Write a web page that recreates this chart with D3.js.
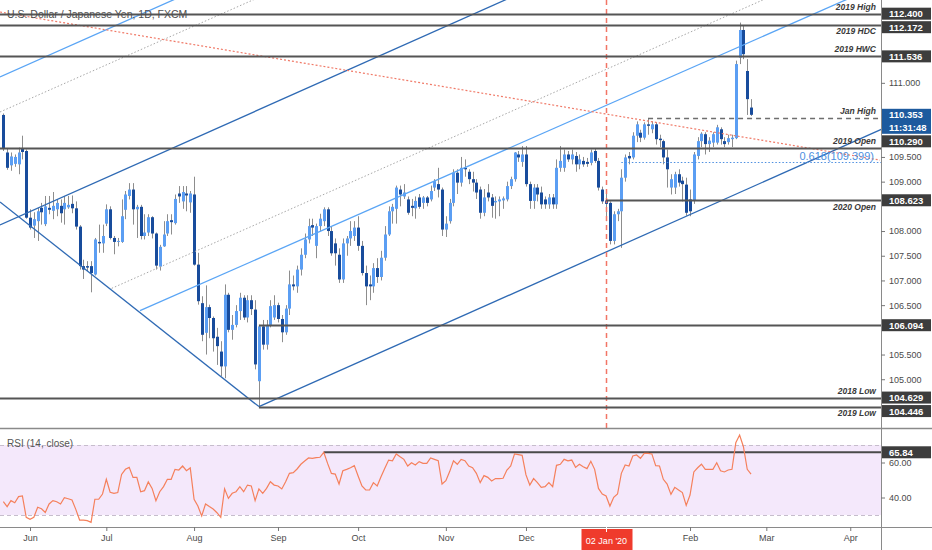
<!DOCTYPE html>
<html><head><meta charset="utf-8">
<script src="https://cdn.jsdelivr.net/npm/d3@7"></script>
<style>
html,body{margin:0;padding:0;background:#fff;overflow:hidden;}
svg{display:block;font-family:"Liberation Sans",Arial,sans-serif;}
</style>
</head><body>
<svg id="chart" width="932" height="550"></svg>
<script>
// ---------------- DATA ----------------
const chartTitle = "U.S. Dollar / Japanese Yen, 1D, FXCM";
const startDate = "2019-05-23";
const endDate = "2020-04-30";
const holidays = ["2019-12-25", "2020-01-01"];
const markerDate = "2020-01-02";
const markerLabel = "02 Jan '20";
const monthLabels = ["Jun","Jul","Aug","Sep","Oct","Nov","Dec","Feb","Mar","Apr"];

// daily candles [open, high, low, close]
const ohlc = [
[110.35,110.38,109.62,109.66],[109.59,109.66,109.24,109.28],[109.33,109.59,109.22,109.51],[109.36,109.55,109.30,109.50],
[109.35,109.69,109.15,109.59],[109.66,109.93,109.45,109.60],[109.62,109.65,108.25,108.27],[108.27,108.44,108.03,108.07],
[108.11,108.38,107.86,108.24],[108.20,108.47,107.80,108.40],[108.47,108.57,108.13,108.38],[108.14,108.71,108.10,108.50],
[108.47,108.71,108.34,108.43],[108.41,108.79,108.24,108.51],[108.44,108.64,108.30,108.57],[108.51,108.64,108.17,108.36],
[108.44,108.71,108.13,108.57],[108.48,108.71,108.45,108.53],[108.55,108.72,108.36,108.46],[108.46,108.60,108.03,108.09],
[108.09,108.12,107.22,107.29],[107.29,107.42,107.03,107.22],[107.29,107.39,107.19,107.26],[107.29,107.39,106.76,107.15],
[107.12,107.86,107.10,107.83],[107.78,108.13,107.56,107.75],[107.75,108.13,107.56,107.90],[108.15,108.54,108.10,108.44],
[108.44,108.50,107.83,107.86],[107.86,107.90,107.53,107.78],[107.78,107.86,107.69,107.80],[107.78,108.64,107.76,108.30],
[108.43,108.81,108.24,108.74],[108.71,108.97,108.64,108.84],[108.84,108.97,108.13,108.44],[108.44,108.53,107.86,108.49],
[108.49,108.53,107.83,107.90],[107.90,108.34,107.83,107.97],[107.97,108.34,107.90,108.28],[108.28,108.30,107.85,107.95],
[107.95,107.97,107.22,107.30],[107.28,107.72,107.20,107.68],[107.69,108.20,107.68,107.93],[107.95,108.34,107.90,108.20],
[108.22,108.34,107.93,108.18],[108.16,108.74,108.13,108.65],[108.76,108.91,108.57,108.70],[108.60,108.91,108.45,108.79],
[108.76,108.91,108.40,108.72],[108.58,108.81,108.37,108.76],[108.74,109.10,107.30,107.32],[107.32,107.56,106.51,106.58],
[106.54,106.68,105.77,105.90],[105.94,106.90,105.50,106.46],[106.46,106.51,105.83,106.24],[106.24,106.27,105.56,105.83],
[105.86,106.04,105.29,105.67],[105.56,105.77,105.06,105.26],[105.26,106.92,105.02,106.71],[106.71,106.75,105.95,106.00],
[106.00,106.30,105.80,106.10],[106.10,106.50,106.05,106.38],[106.38,106.75,106.20,106.65],[106.65,106.70,106.20,106.25],
[106.25,106.70,106.15,106.60],[106.60,106.70,106.30,106.42],[106.41,106.60,105.20,105.30],[104.96,106.10,104.45,106.07],
[106.07,106.20,105.60,105.70],[105.70,106.20,105.60,106.10],[106.10,106.60,106.05,106.48],[106.25,106.70,106.20,106.50],
[106.50,106.55,106.15,106.22],[106.22,106.30,105.75,105.95],[105.95,106.50,105.90,106.43],[106.43,107.20,106.30,106.92],
[106.92,107.10,106.80,106.88],[106.88,107.30,106.75,107.22],[107.22,107.65,107.10,107.52],[107.52,107.95,107.45,107.83],
[107.83,108.25,107.75,108.10],[108.12,108.25,107.90,108.07],[107.70,108.15,107.45,108.10],[108.10,108.35,108.00,108.25],
[108.20,108.48,108.10,108.44],[108.44,108.48,107.90,108.00],[108.00,108.10,107.50,107.55],[107.75,107.85,107.30,107.55],
[107.52,107.65,106.95,107.02],[107.02,107.85,106.95,107.75],[107.75,107.90,107.50,107.85],[107.85,108.20,107.70,108.00],
[107.90,108.20,107.80,108.07],[108.07,108.30,107.60,107.70],[107.70,107.80,107.10,107.15],[107.15,107.30,106.50,106.88],
[106.92,107.10,106.60,106.88],[106.88,107.35,106.75,107.25],[107.25,107.45,106.95,107.07],[107.07,107.60,107.00,107.46],
[107.46,108.10,107.40,107.93],[107.93,108.50,107.90,108.40],[108.40,108.55,108.15,108.49],[108.45,108.92,108.15,108.88],
[108.84,108.92,108.50,108.74],[108.70,108.95,108.65,108.78],[108.64,108.70,108.33,108.37],[108.51,108.65,108.30,108.47],
[108.46,108.70,108.25,108.61],[108.68,108.75,108.45,108.49],[108.57,108.71,108.45,108.68],[108.68,108.71,108.50,108.57],
[108.64,108.92,108.60,108.81],[108.88,109.05,108.81,109.01],[108.95,109.28,108.68,108.84],[108.84,108.88,107.90,108.03],
[108.03,108.30,107.88,108.15],[108.20,108.65,108.15,108.57],[108.57,109.25,108.50,109.18],[109.18,109.25,108.75,108.98],
[108.98,109.50,108.90,109.28],[109.28,109.45,109.10,109.25],[109.20,109.25,108.95,109.05],[109.05,109.20,108.80,108.98],
[108.98,109.05,108.65,108.78],[108.84,108.90,108.25,108.37],[108.37,108.85,108.30,108.68],[108.78,108.95,108.60,108.68],
[108.68,108.75,108.27,108.51],[108.58,108.70,108.25,108.61],[108.60,108.70,108.30,108.64],[108.62,108.70,108.45,108.66],
[108.64,109.00,108.60,108.91],[108.91,109.10,108.85,109.05],[109.05,109.60,109.00,109.59],[109.55,109.62,109.40,109.49],
[109.40,109.72,109.30,109.55],[109.55,109.72,108.90,108.95],[108.95,109.00,108.45,108.61],[108.61,108.95,108.45,108.88],
[108.88,108.95,108.60,108.74],[108.78,108.90,108.45,108.54],[108.64,108.70,108.45,108.54],[108.54,108.75,108.45,108.68],
[108.68,108.75,108.45,108.54],[108.54,109.45,108.45,109.28],[109.28,109.72,109.20,109.42],[109.28,109.65,109.20,109.55],
[109.55,109.62,109.40,109.45],[109.45,109.65,109.35,109.55],[109.52,109.60,109.20,109.35],[109.35,109.55,109.25,109.45],
[109.42,109.50,109.30,109.35],[109.40,109.48,109.30,109.36],[109.38,109.65,109.33,109.59],[109.62,109.68,109.38,109.42],
[109.42,109.48,108.82,108.88],[108.84,108.90,108.55,108.60],[108.62,108.75,108.20,108.55],[108.57,108.60,107.73,107.80],
[107.80,108.40,107.73,108.34],[108.34,108.45,108.20,108.40],[108.40,109.25,107.66,109.08],[109.08,109.55,109.00,109.49],
[109.52,109.60,109.35,109.47],[109.49,110.00,109.45,109.93],[109.93,110.22,109.80,110.16],[109.99,110.05,109.80,109.89],
[109.89,110.20,109.85,110.16],[110.16,110.29,109.95,110.13],[110.06,110.22,109.98,110.16],[110.16,110.20,109.75,109.86],
[109.87,109.95,109.70,109.84],[109.82,109.85,109.35,109.49],[109.49,109.65,108.88,109.25],[108.88,109.15,108.74,109.05],
[108.88,109.20,108.75,109.15],[109.15,109.25,108.90,108.98],[109.02,109.10,108.60,108.95],[108.94,109.08,108.31,108.37],
[108.64,108.84,108.30,108.40],[108.61,109.60,108.55,109.55],[109.52,109.90,109.45,109.82],[109.82,110.00,109.70,109.97],
[109.96,110.00,109.55,109.76],[109.76,109.90,109.60,109.83],[109.79,110.00,109.70,109.96],[109.79,110.15,109.75,110.10],
[110.06,110.10,109.75,109.86],[109.82,109.90,109.70,109.76],[109.80,109.95,109.75,109.88],[109.86,109.95,109.70,109.89],
[109.88,111.45,109.86,111.38],[111.51,112.22,111.38,112.07],[112.07,112.15,111.48,111.58],[111.24,111.48,110.35,110.67],
[110.50,110.67,110.33,110.353]
];

// RSI(14, close) values per bar
const rsi = [
37.6,34.8,38.2,37.0,40.5,40.9,28.7,27.5,28.7,34.4,33.6,31.5,36.3,38.2,37.6,36.3,39.9,39.3,38.6,33.2,
27.1,27.1,26.8,25.8,39.0,39.0,42.0,50.4,43.0,42.4,42.8,53.2,56.1,57.2,51.5,51.5,43.3,43.9,48.9,45.2,
38.2,43.3,46.2,50.4,50.4,56.1,55.7,58.0,55.3,56.9,39.0,35.1,29.4,36.3,34.8,33.4,31.3,28.7,45.0,39.5,
42.4,43.3,46.2,43.3,47.1,46.6,38.2,44.9,42.4,45.2,49.0,47.1,46.6,44.9,49.0,53.8,54.2,56.3,59.0,60.9,
62.6,62.4,62.8,63.0,65.84,59.5,53.8,53.4,47.7,55.3,56.1,57.0,58.2,52.3,46.6,44.3,44.3,48.5,46.6,51.9,
56.7,61.4,61.0,64.9,63.3,61.8,58.0,59.9,58.6,60.5,59.5,59.5,62.6,61.8,61.0,47.7,49.6,54.8,61.0,59.0,
61.8,61.0,58.0,57.0,53.8,48.5,52.5,51.5,49.4,50.8,50.8,51.0,55.7,58.0,64.9,64.5,64.1,52.9,47.1,50.8,
48.5,45.8,46.2,48.5,46.2,58.4,59.0,61.8,60.9,61.4,57.2,59.0,57.6,56.5,60.7,56.1,45.2,42.0,40.9,35.1,
40.1,42.0,53.8,58.6,58.0,63.7,64.3,62.4,65.2,65.2,64.9,58.2,58.0,50.4,47.7,41.8,45.8,44.3,42.8,35.5,
41.4,54.6,57.0,59.0,56.1,56.1,56.1,59.9,55.3,54.6,55.7,56.1,71.3,75.7,69.0,56.1,53.4
];
const rsiBand = [30, 70];
const rsiTicks = [40, 60];
const rsiLevel = 65.84;
const rsiLevelFrom = 84;

// horizontal price levels
const levelNames  = ["2019 High","2019 HDC","2019 HWC","Jan High","2019 Open","2020 Open","","2018 Low","2019 Low"];
const levelValues = [112.400, 112.172, 111.536, 110.290, 109.690, 108.623, 106.094, 104.629, 104.446];
const levelFrom   = [null, null, null, 169, null, 158, 67, null, 67];
const levelTagged = [true, true, true, true, false, true, true, true, true];

// fibonacci level
const fibName = "0.618";
const fibValue = 109.399;
const fibFrom = 162;

// trend lines, [barIndex, price] anchors
const channelLines = [
  [[-0.87, 108.59], [67, 104.446]],
  [[67, 104.446], [240, 110.397]],
  [[-0.87, 108.123], [140, 112.969]]
];
const medianLines = [
  [[35.83, 106.388], [232, 113.06]],
  [[-0.87, 111.118], [50, 112.866]]
];
const quarterLines = [
  [[-0.87, 110.41], [70, 112.834]],
  [[28.41, 106.84], [205, 112.88]]
];
const fibTrend = [[-0.87, 112.434], [229.8, 109.436]];

const priceTicks = [104.5,105,105.5,106,106.5,107,107.5,108,108.5,109,109.5,110,110.5,111,111.5,112];
const countdown = "11:31:48";

// ---------------- LAYOUT ----------------
const W = 932, H = 550;
const plotRight = 881, mainBottom = 428, rsiBottom = 527;
const bullColor = "#5b9ef3", bearColor = "#184c9c", wickColor = "#8d8d8d";

const svg = d3.select("#chart");
svg.append("rect").attr("width", W).attr("height", H).attr("fill", "#fff");

const defs = svg.append("defs");
defs.append("clipPath").attr("id", "clipMain").append("rect")
  .attr("x", 0).attr("y", 0).attr("width", plotRight).attr("height", mainBottom);
defs.append("clipPath").attr("id", "clipRsi").append("rect")
  .attr("x", 0).attr("y", mainBottom).attr("width", plotRight).attr("height", rsiBottom - mainBottom);

// dates (trading days)
const parse = d3.utcParse("%Y-%m-%d"), fmt = d3.utcFormat("%Y-%m-%d"), fmtMon = d3.utcFormat("%b");
const dates = [];
for (let d = parse(startDate); d <= parse(endDate); d = d3.utcDay.offset(d, 1)) {
  const wd = d.getUTCDay();
  if (wd !== 0 && wd !== 6 && !holidays.includes(fmt(d))) dates.push(d);
}

const x = d3.scaleLinear().domain([-0.87, 230.06]).range([0, plotRight]);
const y = d3.scaleLinear().domain([104.013, 112.677]).range([mainBottom, 0]);
const yr = d3.scaleLinear().domain(rsiBand).range([515, 445]);

// ---------------- MAIN PANE ----------------
const main = svg.append("g").attr("clip-path", "url(#clipMain)");
const px = i => Math.round(x(i));

// candles
const cg = main.append("g");
cg.selectAll("line").data(ohlc).join("line")
  .attr("x1", (d, i) => px(i) + 0.5).attr("x2", (d, i) => px(i) + 0.5)
  .attr("y1", d => y(d[1])).attr("y2", d => y(d[2]))
  .attr("stroke", wickColor).attr("stroke-width", 1);
cg.selectAll("rect").data(ohlc).join("rect")
  .attr("x", (d, i) => px(i) - 1).attr("width", 3)
  .attr("y", d => y(Math.max(d[0], d[3])))
  .attr("height", d => Math.max(1, Math.abs(y(d[0]) - y(d[3]))))
  .attr("fill", d => d[3] >= d[0] ? bullColor : bearColor);

const line = d3.line().x(d => x(d[0])).y(d => y(d[1]));
const dg = main.append("g").attr("fill", "none");
dg.selectAll("path.q").data(quarterLines).join("path").attr("class", "q")
  .attr("d", line).attr("stroke", "#a8a8a8").attr("stroke-width", 1).attr("stroke-dasharray", "1.5,2");
dg.selectAll("path.m").data(medianLines).join("path").attr("class", "m")
  .attr("d", line).attr("stroke", "#5aa5f5").attr("stroke-width", 1.3);
dg.selectAll("path.c").data(channelLines).join("path").attr("class", "c")
  .attr("d", line).attr("stroke", "#2f6ab4").attr("stroke-width", 1.3);
dg.append("path").attr("d", line(fibTrend))
  .attr("stroke", "#f07a68").attr("stroke-width", 1.2).attr("stroke-dasharray", "2,2");

// fib level
dg.append("line").attr("x1", x(fibFrom)).attr("x2", plotRight)
  .attr("y1", Math.round(y(fibValue)) + 0.5).attr("y2", Math.round(y(fibValue)) + 0.5)
  .attr("stroke", "#4d8fe0").attr("stroke-width", 1).attr("stroke-dasharray", "1.5,2");
main.append("text").attr("x", 874).attr("y", y(fibValue) - 2)
  .attr("text-anchor", "end").attr("font-size", 11).attr("fill", "#4d8fe0")
  .text(fibName + "(" + fibValue.toFixed(3) + ")");

// Jan 2 vertical marker
const markerIdx = dates.findIndex(d => fmt(d) === markerDate);
main.append("line").attr("x1", px(markerIdx) + 0.5).attr("x2", px(markerIdx) + 0.5)
  .attr("y1", 0).attr("y2", mainBottom)
  .attr("stroke", "#f27566").attr("stroke-width", 1.5).attr("stroke-dasharray", "5,4");

// horizontal levels
const lv = main.append("g");
levelValues.forEach((v, k) => {
  const yy = Math.round(y(v)) + 0.5;
  const isJan = levelNames[k] === "Jan High";
  lv.append("line").attr("x1", levelFrom[k] == null ? 0 : x(levelFrom[k])).attr("x2", plotRight)
    .attr("y1", yy).attr("y2", yy)
    .attr("stroke", isJan ? "#6e6e6e" : "#555").attr("stroke-width", isJan ? 1.6 : 2)
    .attr("stroke-dasharray", isJan ? "5,4" : null);
});
const belowNames = ["2019 HDC", "2020 Open", "2019 Low"];
levelValues.forEach((v, k) => {
  if (!levelNames[k]) return;
  const below = belowNames.includes(levelNames[k]);
  lv.append("text").attr("x", 876).attr("y", y(v) + (below ? 9.5 : -4))
    .attr("text-anchor", "end").attr("font-size", 8.5).attr("font-style", "italic")
    .attr("font-weight", "bold").attr("fill", "#3a3a3a").text(levelNames[k]);
});

// title
svg.append("text").attr("x", 7).attr("y", 18).attr("font-size", 10.5).attr("fill", "#4f4f4f")
  .text(chartTitle);

// ---------------- RSI PANE ----------------
const rp = svg.append("g").attr("clip-path", "url(#clipRsi)");
rp.append("rect").attr("x", 0).attr("width", plotRight)
  .attr("y", yr(rsiBand[1])).attr("height", yr(rsiBand[0]) - yr(rsiBand[1])).attr("fill", "#f4e8fb");
rp.selectAll("line.band").data(rsiBand).join("line").attr("class", "band")
  .attr("x1", 0).attr("x2", plotRight).attr("y1", d => Math.round(yr(d)) + 0.5).attr("y2", d => Math.round(yr(d)) + 0.5)
  .attr("stroke", "#c6bdcc").attr("stroke-width", 1.2).attr("stroke-dasharray", "4,3");
rp.append("line").attr("x1", x(rsiLevelFrom)).attr("x2", plotRight)
  .attr("y1", yr(rsiLevel)).attr("y2", yr(rsiLevel)).attr("stroke", "#4a4a4a").attr("stroke-width", 2);
rp.append("path").datum(rsi).attr("fill", "none").attr("stroke", "#f5805c").attr("stroke-width", 1.2)
  .attr("d", d3.line().x((d, i) => x(i)).y(d => yr(d)));
svg.append("text").attr("x", 7).attr("y", 447).attr("font-size", 10).attr("fill", "#555")
  .text("RSI (14, close)");

// ---------------- AXES ----------------
svg.append("line").attr("x1", 0).attr("x2", W).attr("y1", mainBottom + 0.5).attr("y2", mainBottom + 0.5)
  .attr("stroke", "#8a8a8a").attr("stroke-width", 1.5);
svg.append("line").attr("x1", 0).attr("x2", W).attr("y1", rsiBottom + 0.5).attr("y2", rsiBottom + 0.5)
  .attr("stroke", "#8a8a8a").attr("stroke-width", 1);
svg.append("line").attr("x1", plotRight + 0.5).attr("x2", plotRight + 0.5).attr("y1", 0).attr("y2", H)
  .attr("stroke", "#8a8a8a").attr("stroke-width", 1);

// price tags with collision avoidance (computed first so covered ticks can be hidden)
const tags = [];
levelValues.forEach((v, k) => { if (levelTagged[k]) tags.push({ t: y(v), h: 12, lines: [v.toFixed(3)], bg: "#3d3d3d" }); });
const last = ohlc[ohlc.length - 1][3];
tags.push({ t: y(last), h: 25, lines: [last.toFixed(3), countdown], bg: "#1d5a9e", center: 6 });
tags.sort((a, b) => a.t - b.t);
let prevBottom = -Infinity;
tags.forEach(tg => {
  const off = tg.center || tg.h / 2;
  let top = tg.t - off;
  if (top < prevBottom + 1.5) top = prevBottom + 1.5;
  tg.top = top; prevBottom = top + tg.h;
});
const rsiTagY = yr(rsiLevel);
const boxes = tags.map(t => [t.top, t.top + t.h]).concat([[rsiTagY - 6, rsiTagY + 6]]);
const covered = yy => boxes.some(b => yy + 4 > b[0] && yy - 4 < b[1]);

function styleAxis(g) {
  g.select(".domain").remove();
  g.selectAll(".tick line").attr("stroke", "#777");
  g.selectAll(".tick text").attr("fill", "#4a4a4a").attr("font-size", 9)
    .attr("font-family", "Liberation Sans, Arial, sans-serif");
}
svg.append("g").attr("transform", `translate(${plotRight},0)`)
  .call(d3.axisRight(y).tickValues(priceTicks.filter(v => !covered(y(v))))
    .tickFormat(d3.format(".3f")).tickSize(4).tickPadding(4))
  .call(styleAxis);
svg.append("g").attr("transform", `translate(${plotRight},0)`)
  .call(d3.axisRight(yr).tickValues(rsiTicks).tickFormat(d3.format(".2f")).tickSize(4).tickPadding(4))
  .call(styleAxis);

// time axis
const monthIdx = monthLabels.map(m => dates.findIndex(d => fmtMon(d) === m));
svg.append("g").attr("transform", `translate(0,${rsiBottom})`)
  .call(d3.axisBottom(x).tickValues(monthIdx).tickFormat((d, i) => monthLabels[i]).tickSize(4).tickPadding(4))
  .call(styleAxis);

// marker label on time axis
const mx = px(markerIdx) + 0.5;
svg.append("rect").attr("x", mx - 25).attr("y", 529).attr("width", 51).attr("height", 21).attr("fill", "#ef3b2c");
svg.append("line").attr("x1", mx).attr("x2", mx).attr("y1", 527).attr("y2", 532).attr("stroke", "#fff");
svg.append("text").attr("x", mx).attr("y", 544).attr("text-anchor", "middle").attr("font-size", 9)
  .attr("fill", "#fff").text(markerLabel);

// draw price tags
const tagG = svg.append("g");
tags.forEach(tg => {
  tagG.append("rect").attr("x", plotRight + 1).attr("y", tg.top).attr("width", 49).attr("height", tg.h).attr("fill", tg.bg);
  tg.lines.forEach((s, j) => {
    tagG.append("text").attr("x", plotRight + 8).attr("y", tg.top + 9.5 + j * 13)
      .attr("font-size", 9.5).attr("font-weight", "bold").attr("fill", "#fff").text(s);
  });
});
// RSI tag
svg.append("rect").attr("x", plotRight + 1).attr("y", rsiTagY - 6).attr("width", 49).attr("height", 12).attr("fill", "#3d3d3d");
svg.append("text").attr("x", plotRight + 8).attr("y", rsiTagY + 3.5).attr("font-size", 9.5).attr("font-weight", "bold")
  .attr("fill", "#fff").text(rsiLevel.toFixed(2));
</script>
</body></html>
